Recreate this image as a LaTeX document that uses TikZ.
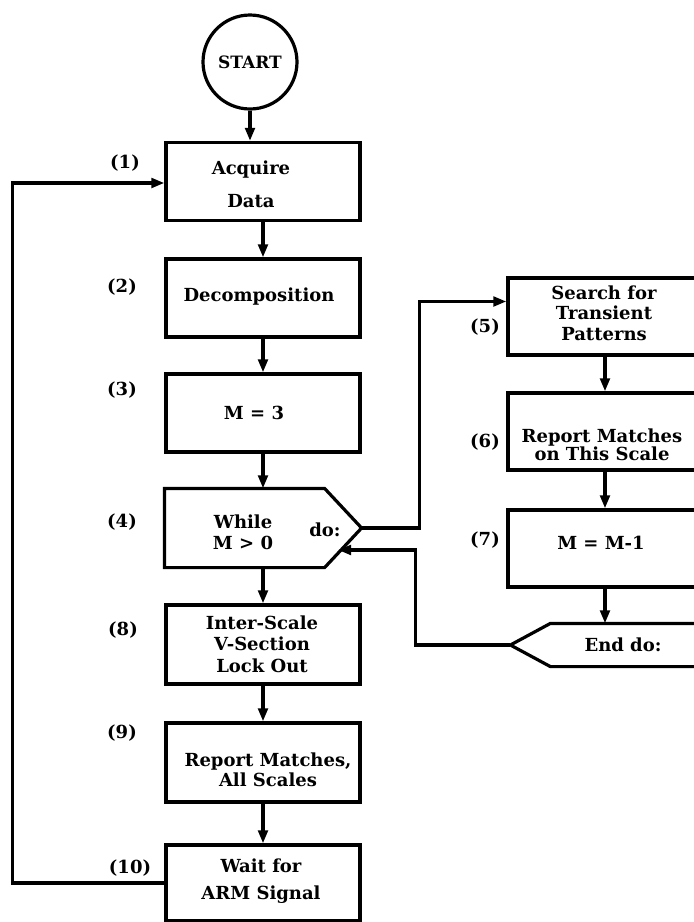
\documentclass[tikz,border=0pt]{standalone}
\usepackage{fontspec}
\setmainfont{DejaVu Serif}
\usetikzlibrary{arrows.meta}
\begin{document}
\begin{tikzpicture}[x=1pt,y=-1pt,
  line width=3.2pt,
  arr/.style={-{Triangle[length=13pt,width=9.5pt]}},
  stepbox/.style={draw,rectangle,inner sep=0pt,minimum width=194pt,minimum height=78pt},
  hidden/.style={rectangle,inner sep=0pt,minimum width=194pt},
  txt/.style={align=center,inner sep=0pt,font=\fontsize{18}{20}\selectfont\bfseries},
  num/.style={inner sep=0pt,font=\fontsize{18}{20}\selectfont\bfseries}]
\useasboundingbox (0,0) rectangle (694,922);
\clip (0,0) rectangle (694,922);

% start terminal
\node[draw,circle,minimum size=94pt,inner sep=0pt,font=\fontsize{17}{17}\selectfont\bfseries] (start) at (250,62) {START};

% main column
\node[stepbox] (b1) at (263,181.5) {};
\node[stepbox] (b2) at (263,298) {};
\node[stepbox] (b3) at (263,413) {};
\node[hidden,minimum height=76pt] (b4) at (263,528) {};
\draw (b4.north west) -- ([xshift=-37pt]b4.north east) -- (b4.east)
      -- ([xshift=-37pt]b4.south east) -- (b4.south west) -- cycle;
\node[stepbox,minimum height=79pt] (b8) at (263,644.5) {};
\node[stepbox,minimum height=79pt] (b9) at (263,762.5) {};
\node[stepbox,minimum height=76pt] (b10) at (263,883) {};

% inner loop column
\node[stepbox,minimum height=77pt] (b5) at (605,316.5) {};
\node[stepbox,minimum height=77pt] (b6) at (605,431.5) {};
\node[stepbox,minimum height=77pt] (b7) at (605,548.5) {};
\node[hidden,minimum width=190pt,minimum height=40pt] (e) at (607,645) {};
\draw (e.west) -- ([xshift=40pt]e.north west) -- (e.north east)
      -- (e.south east) -- ([xshift=40pt]e.south west) -- cycle;

% box texts
\node[txt,font=\fontsize{18}{33}\selectfont\bfseries] (t1) at (251,184) {Acquire\\Data};
\node[txt] (t2) at (259,297) {Decomposition};
\node[txt] (t3) at (254,413) {M = 3};
\node[txt,font=\fontsize{18}{21}\selectfont\bfseries] (t4) at (243,532) {While\\M > 0};
\node[txt] (tdo) at (325,530) {do:};
\node[txt,font=\fontsize{18}{21.5}\selectfont\bfseries] (t8) at (262,644) {Inter-Scale\\V-Section\\Lock Out};
\node[txt] (t9) at (268,770) {Report Matches,\\All Scales};
\node[txt,font=\fontsize{18}{27}\selectfont\bfseries] (t10) at (261,881) {Wait for\\ARM Signal};
\node[txt,font=\fontsize{18}{20.5}\selectfont\bfseries] (t5) at (604,313) {Search for\\Transient\\Patterns};
\node[txt,font=\fontsize{18}{15}\selectfont\bfseries] (t6) at (602,445) {Report Matches\\on This Scale};
\node[txt] (t7) at (601,543) {M = M-1};
\node[txt] (tend) at (623,645) {End do:};

% step numbers
\node[num] (n1) at (125,163) {(1)};
\node[num] (n2) at (122,287) {(2)};
\node[num] (n3) at (122,390) {(3)};
\node[num] (n4) at (122,522) {(4)};
\node[num] (n8) at (123,630) {(8)};
\node[num] (n9) at (122,733) {(9)};
\node[num] (n10) at (130,868) {(10)};
\node[num] (n5) at (485,327) {(5)};
\node[num] (n6) at (485,442) {(6)};
\node[num] (n7) at (485,540) {(7)};

% main flow
\draw[arr] (start.south) -- (start.south |- b1.north);
\draw[arr] (b1) -- (b2);
\draw[arr] (b2) -- (b3);
\draw[arr] (b3) -- (b3.south |- b4.north);
\draw[arr] (b3.south |- b4.south) -- (b8.north);
\draw[arr] (b8) -- (b9);
\draw[arr] (b9) -- (b10);
\draw[arr] (b10.west) -- ++(-152,0) |- ([yshift=-1.5pt]b1.west);

% inner loop
\coordinate (ret) at (338,550);
\draw[arr] (b4.east) -- ++(58,0) |- ([yshift=15pt]b5.west);
\draw[arr] (b5) -- (b6);
\draw[arr] (b6) -- (b7);
\draw[arr] (b7.south) -- (b7.south |- e.north);
\draw[arr] (e.west) -- ++(-95,0) |- (ret);
\end{tikzpicture}
\end{document}
